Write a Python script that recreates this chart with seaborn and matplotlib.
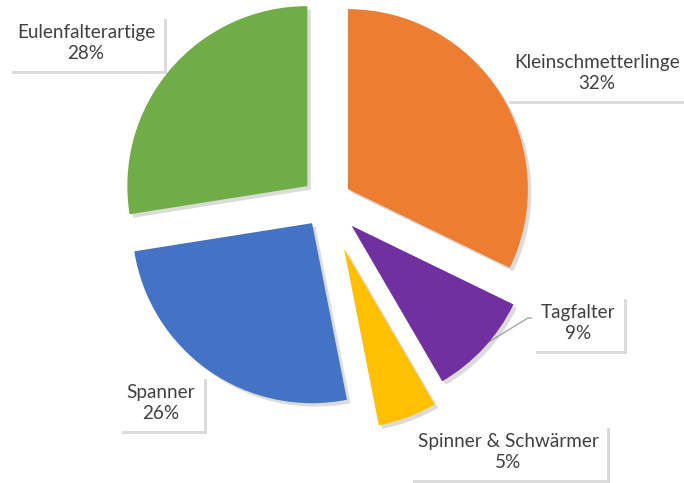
import numpy as np
import matplotlib
matplotlib.use("Agg")
import matplotlib.pyplot as plt
import matplotlib.patheffects as pe
import seaborn as sns

# data
categories = ["Kleinschmetterlinge", "Tagfalter", "Spinner & Schwärmer", "Spanner", "Eulenfalterartige"]
shares = [32.2, 9.4, 5.3, 25.6, 27.5]
colors = ["#ED7D31", "#7030A0", "#FFC000", "#4472C4", "#70AD47"]
explode = [0.14, 0.19, 0.275, 0.14, 0.14]

sns.set_style("white")
plt.rcParams['font.family'] = ['Lato', 'DejaVu Sans']

fig = plt.figure(figsize=(6.84, 4.83), dpi=100)
ax = fig.add_axes([0, 0, 1, 1])

R = 180
wedges, _ = ax.pie(shares, colors=colors, startangle=90, counterclock=False,
                   explode=[e * R for e in explode], radius=R, center=(326.5, 280.5),
                   wedgeprops=dict(linewidth=0))
for w in wedges:
    w.set_path_effects([pe.SimplePatchShadow(offset=(2.5, -2.5), shadow_rgbFace="#888888", alpha=0.3),
                        pe.Normal()])
ax.set_xlim(0, 684)
ax.set_ylim(0, 483)
ax.set_aspect("equal")
ax.axis("off")

# label box positions (pixel coords, y up)
label_pos = [(597, 410), (578, 160), (508, 31), (161, 80), (86, 440)]

for name, val, (x, y) in zip(categories, shares, label_pos):
    pct = int(val / sum(shares) * 100 + 0.5)
    t = ax.text(x, y, f"{name}\n{pct}%", ha="center", va="center", fontsize=13.6,
                color="#404040", linespacing=1.3,
                bbox=dict(boxstyle="square,pad=0.45", fc="white", ec="none"))
    t.get_bbox_patch().set_path_effects([
        pe.SimplePatchShadow(offset=(2.5, -2.5), shadow_rgbFace="#999999", alpha=0.35),
        pe.Normal()])

# leader line for Tagfalter
w = wedges[1]
ang = np.deg2rad(-40)
cx, cy = w.center
x0, y0 = cx + w.r * np.cos(ang), cy + w.r * np.sin(ang)
ax.plot([x0, 528, 536], [y0, 165, 165], color="#A6A6A6", lw=1, zorder=0.5)

fig.savefig("out.png", dpi=100)
